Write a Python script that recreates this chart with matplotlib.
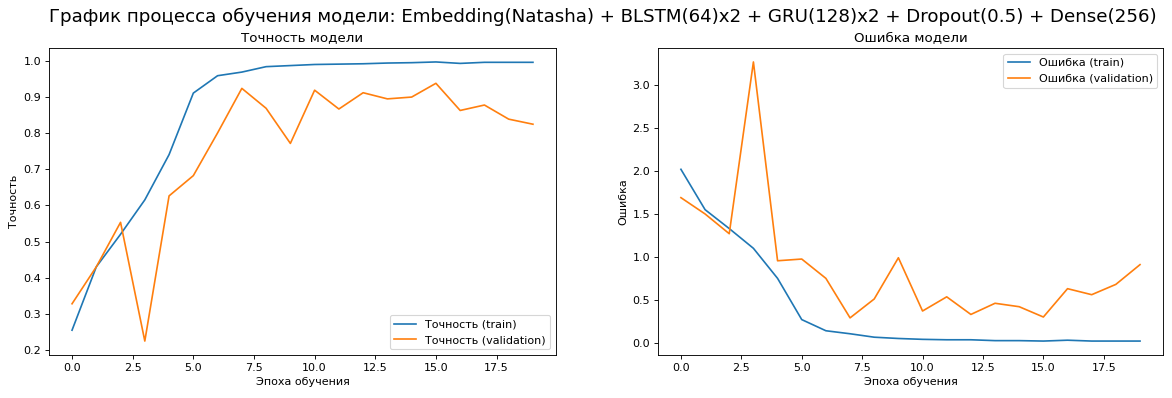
import matplotlib
matplotlib.use("Agg")
import matplotlib.pyplot as plt

epochs = list(range(20))

acc_train = [0.255, 0.43, 0.52, 0.615, 0.74, 0.91, 0.958, 0.968, 0.983, 0.986,
             0.989, 0.990, 0.991, 0.993, 0.994, 0.996, 0.992, 0.995, 0.995, 0.995]
acc_val = [0.328, 0.43, 0.553, 0.225, 0.626, 0.682, 0.80, 0.923, 0.868, 0.771,
           0.918, 0.866, 0.911, 0.894, 0.899, 0.937, 0.862, 0.877, 0.838, 0.824]

loss_train = [2.02, 1.55, 1.33, 1.10, 0.75, 0.27, 0.14, 0.105, 0.065, 0.05,
              0.04, 0.035, 0.035, 0.025, 0.025, 0.02, 0.03, 0.02, 0.02, 0.02]
loss_val = [1.69, 1.50, 1.27, 3.27, 0.955, 0.975, 0.75, 0.29, 0.51, 0.99,
            0.37, 0.535, 0.33, 0.46, 0.42, 0.30, 0.63, 0.56, 0.68, 0.91]

# original was rendered larger and scaled down, so use dpi 80
fig = plt.figure(figsize=(14.65, 4.975), dpi=80)
ax1 = fig.add_axes([0.0418, 0.108, 0.4326, 0.7714])
ax2 = fig.add_axes([0.5614, 0.108, 0.4309, 0.7714])

fig.suptitle("График процесса обучения модели: Embedding(Natasha) + BLSTM(64)x2 + GRU(128)x2 + Dropout(0.5) + Dense(256)",
             fontsize=16.4, x=0.514, y=0.98)

ax1.plot(epochs, acc_train, label="Точность (train)")
ax1.plot(epochs, acc_val, label="Точность (validation)")
ax1.set_title("Точность модели")
ax1.set_xlabel("Эпоха обучения")
ax1.set_ylabel("Точность")
ax1.legend(loc="lower right")

ax2.plot(epochs, loss_train, label="Ошибка (train)")
ax2.plot(epochs, loss_val, label="Ошибка (validation)")
ax2.set_title("Ошибка модели")
ax2.set_xlabel("Эпоха обучения")
ax2.set_ylabel("Ошибка")
ax2.legend(loc="upper right")

fig.savefig("out.png", dpi=80)
